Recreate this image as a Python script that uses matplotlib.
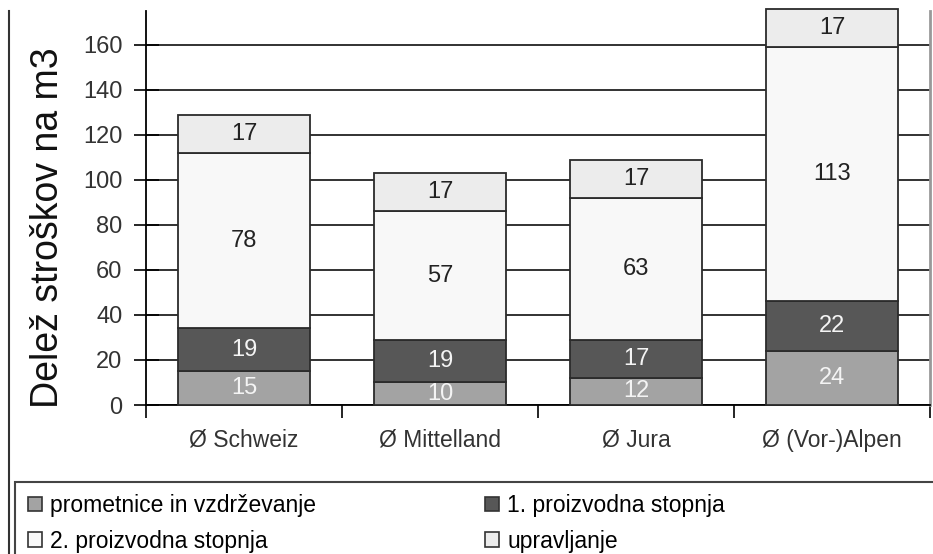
import matplotlib
matplotlib.use("Agg")
import matplotlib.pyplot as plt
import matplotlib.patches as patches
from matplotlib.lines import Line2D
import numpy as np

plt.rcParams['font.family'] = ['Liberation Sans', 'DejaVu Sans']

# data
categories = ['Ø Schweiz', 'Ø Mittelland', 'Ø Jura', 'Ø (Vor-)Alpen']
prometnice = [15, 10, 12, 24]
stopnja1 = [19, 19, 17, 22]
stopnja2 = [78, 57, 63, 113]
upravljanje = [17, 17, 17, 17]
series_names = ['prometnice in vzdrževanje', '1. proizvodna stopnja',
                '2. proizvodna stopnja', 'upravljanje']
yticks = [0, 20, 40, 60, 80, 100, 120, 140, 160]

series = [prometnice, stopnja1, stopnja2, upravljanje]
colors = ['#a3a3a3', '#575757', '#f8f8f8', '#ececec']
text_colors = ['#f4f4f4', '#f4f4f4', '#222222', '#222222']

fig = plt.figure(figsize=(9.33, 5.54), dpi=100)
ax = fig.add_axes([146 / 933, 1 - 405 / 554, (930 - 146) / 933, (405 - 11) / 554])

x = np.arange(len(categories))
bottom = np.zeros(len(categories))
for vals, col, tcol in zip(series, colors, text_colors):
    ax.bar(x, vals, width=0.675, bottom=bottom, color=col, edgecolor='#2b2b2b',
           linewidth=1.3, zorder=3, clip_on=False)
    for xi, v, b0 in zip(x, vals, bottom):
        ax.text(xi, b0 + v / 2, str(v), ha='center', va='center', fontsize=17,
                color=tcol, zorder=4)
    bottom += np.array(vals)

ax.set_xlim(-0.5, 3.5)
ax.set_ylim(0, 175)
ax.set_yticks(yticks)
ax.tick_params(axis='y', direction='inout', length=18, width=1.2, labelsize=17,
               labelcolor='#333333', pad=8)
ax.yaxis.grid(True, color='#222222', linewidth=1.3, zorder=0)
ax.set_axisbelow(True)

ax.set_xticks(x)
ax.set_xticklabels(categories, fontsize=16.5, color='#333333')
ax.set_xticks(np.arange(-0.5, 4.0, 1.0), minor=True)
ax.tick_params(axis='x', which='major', length=0, pad=17)
ax.tick_params(axis='x', which='minor', direction='out', length=9, width=1.2)

ax.spines['top'].set_visible(False)
ax.spines['right'].set_color('#999999')
ax.spines['right'].set_linewidth(2)
ax.spines['left'].set_linewidth(1.3)
ax.spines['bottom'].set_linewidth(1.3)

fig.text(48 / 933, 1 - 228 / 554, 'Delež stroškov na m3', rotation=90,
         ha='center', va='center', fontsize=27, color='#111111')

# left frame line of the figure
fig.add_artist(Line2D([9 / 933, 9 / 933], [0, 1 - 11 / 554], color='#333333',
                      linewidth=1.5, transform=fig.transFigure))

# legend box
fig.add_artist(patches.Rectangle((15 / 933, -0.01), 0.99, 1 - 482 / 554 + 0.01,
                                 transform=fig.transFigure, fill=False,
                                 edgecolor='#444444', linewidth=1.5))
order = [0, 2, 1, 3]
handles = [patches.Patch(facecolor=colors[i], edgecolor='#333333', linewidth=1.2)
           for i in order]
labels = [series_names[i] for i in order]
fig.legend(handles, labels, ncol=2, loc='upper left',
           bbox_to_anchor=(12 / 933, 1 - 478 / 554), frameon=False, fontsize=16.5,
           handlelength=0.6, handleheight=0.6, handletextpad=0.35,
           columnspacing=7.4, labelspacing=0.55, borderpad=0.2)

fig.savefig('out.png', dpi=100)
